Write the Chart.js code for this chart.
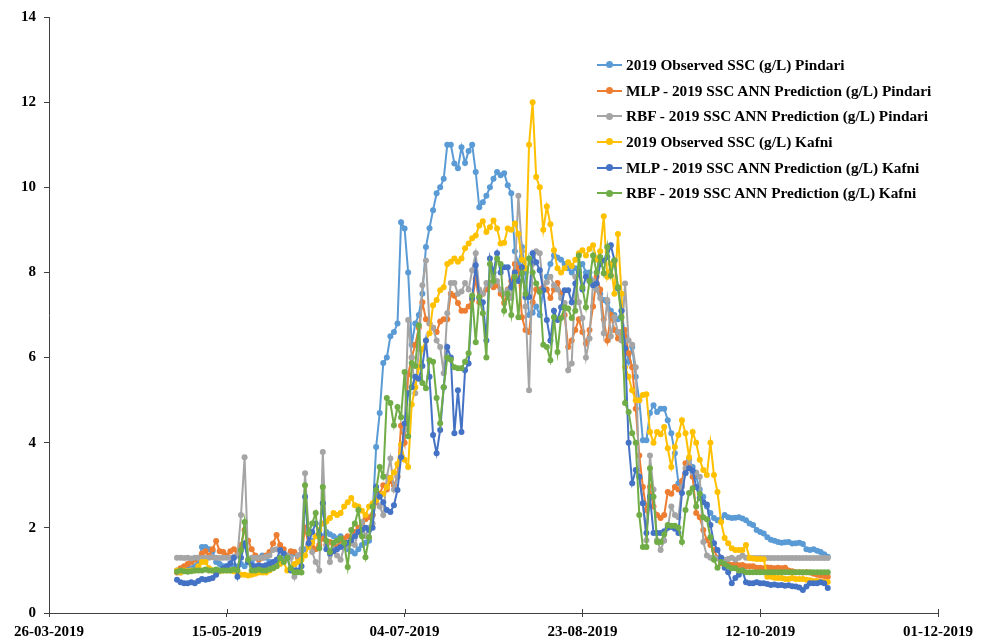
<!DOCTYPE html>
<html>
<head>
<meta charset="utf-8">
<script src="https://cdn.jsdelivr.net/npm/chart.js@4.4.1/dist/chart.umd.min.js"></script>
<style>
  html, body { margin: 0; padding: 0; background: #fff; }
  #wrap { position: relative; width: 989px; height: 640px; }
  #legend { position: absolute; left: 597px; top: 52px; font: bold 15.3px 'Liberation Serif', 'Times New Roman', serif; color: #000; }
  .row { height: 25.7px; display: flex; align-items: center; white-space: nowrap; }
  .sw { position: relative; width: 25px; height: 2px; margin-right: 4px; flex: none; }
  .sw i { position: absolute; left: 9px; top: -2.5px; width: 7px; height: 7px; border-radius: 50%; }
</style>
</head>
<body>
<div id="wrap">
  <canvas id="chart" width="989" height="640"></canvas>
  <div id="legend"></div>
</div>
<script>
// daily values, 01-05-2019 .. 31-10-2019 (184 days)
const firstDay = 36; // days after 26-03-2019

const seriesNames = [
  '2019 Observed SSC (g/L) Pindari',
  'MLP - 2019 SSC ANN Prediction (g/L) Pindari',
  'RBF - 2019 SSC ANN Prediction (g/L) Pindari',
  '2019 Observed SSC (g/L) Kafni',
  'MLP - 2019 SSC ANN Prediction (g/L) Kafni',
  'RBF - 2019 SSC ANN Prediction (g/L) Kafni'
];

const obsPindari = [
  1.0, 0.95, 1.0, 1.05, 1.05, 1.1, 1.15, 1.55, 1.55, 1.5,
  1.45, 1.2, 1.15, 1.1, 1.1, 1.05, 1.1, 1.1, 1.15, 1.1,
  1.2, 1.2, 1.3, 1.3, 1.35, 1.3, 1.2, 1.15, 1.2, 1.3,
  1.25, 1.3, 1.35, 1.4, 1.35, 1.4, 1.5, 1.6, 1.7, 1.8,
  1.85, 1.8, 1.9, 1.85, 1.8, 1.75, 1.8, 1.55, 1.5, 1.45,
  1.4, 1.5, 1.6, 1.65, 1.7, 2.3, 3.9, 4.7, 5.87, 6.0,
  6.5, 6.6, 6.8, 9.18, 9.03, 8.0, 6.3, 6.8, 7.0, 7.5,
  8.6, 9.04, 9.46, 9.86, 10.0, 10.2, 11.0, 11.0, 10.56, 10.45,
  10.94, 10.57, 10.85, 11.0, 10.36, 9.53, 9.65, 9.8, 10.0, 10.2,
  10.36, 10.28, 10.33, 10.05, 9.86, 8.5, 8.2, 8.6, 8.0, 7.0,
  7.05, 7.2, 7.0, 7.6, 7.9, 8.2, 8.4, 8.35, 8.3, 8.2,
  8.1, 8.0, 8.1, 8.05, 8.2, 8.0, 8.0, 7.8, 7.6, 7.5,
  7.35, 7.3, 7.1, 7.0, 6.9, 7.1, 6.5, 5.9, 6.25, 5.55,
  5.0, 4.06, 4.06, 4.7, 4.88, 4.72, 4.8, 4.8, 4.53, 4.22,
  3.75, 3.05, 3.0, 3.29, 3.6, 3.43, 3.2, 2.9, 2.73, 2.5,
  2.35, 2.23, 2.18, 2.2, 2.3, 2.25, 2.23, 2.24, 2.25, 2.22,
  2.18, 2.1, 2.07, 1.95, 1.9, 1.87, 1.78, 1.72, 1.7, 1.67,
  1.65, 1.66, 1.67, 1.63, 1.64, 1.65, 1.62, 1.5, 1.48, 1.5,
  1.46, 1.43, 1.38, 1.32
];

const mlpPindari = [
  0.95, 1.05, 1.1, 1.15, 1.2, 1.25, 1.3, 1.4, 1.45, 1.35,
  1.5, 1.69, 1.45, 1.43, 1.35, 1.45, 1.5, 1.4, 1.6, 1.95,
  1.7, 1.5, 1.35, 1.25, 1.3, 1.35, 1.43, 1.63, 1.83, 1.6,
  1.5, 1.35, 1.45, 1.43, 1.3, 1.35, 2.0, 1.6, 1.55, 1.5,
  1.6, 1.75, 1.6, 1.67, 1.6, 1.55, 1.7, 1.75, 1.8, 1.75,
  1.9, 2.0, 2.1, 2.2, 2.25, 2.3, 2.6, 2.8, 3.0, 2.9,
  3.1, 3.0, 3.2, 4.4, 4.0, 5.6, 6.0, 6.3, 6.7, 7.3,
  6.9, 6.8, 6.7, 6.6, 6.85, 6.9, 6.9, 7.5, 7.45, 7.28,
  7.1, 7.1, 7.2, 7.35, 7.85, 7.3, 7.5, 7.6, 7.75, 7.65,
  7.7, 7.5, 7.28, 7.6, 7.8, 8.2, 8.1, 6.95, 6.65, 6.6,
  7.3, 7.6, 7.6, 7.65, 7.6, 7.4, 7.6, 7.75, 7.5, 7.0,
  6.25, 6.4, 6.65, 6.9, 6.6, 6.33, 6.65, 7.2, 7.9, 7.6,
  6.9, 6.4, 7.0, 6.65, 6.45, 6.6, 6.65, 6.1, 5.77, 4.8,
  3.7, 2.96, 2.42, 2.96, 2.5, 2.3, 2.23, 2.3, 2.84, 2.8,
  2.96, 2.9, 3.1, 3.52, 3.45, 3.2, 2.35, 2.25, 1.95, 1.71,
  1.6, 1.48, 1.3, 1.17, 1.2, 1.15, 1.13, 1.15, 1.12, 1.13,
  1.1, 1.1, 1.1, 1.06, 1.06, 1.05, 1.07, 1.06, 1.05, 1.06,
  1.05, 1.06, 1.0, 0.98, 0.96, 0.96, 0.95, 0.96, 0.95, 0.92,
  0.9, 0.88, 0.87, 0.85
];

const rbfPindari = [
  1.3, 1.3, 1.29, 1.3, 1.28, 1.3, 1.3, 1.29, 1.3, 1.3,
  1.31, 1.3, 1.29, 1.3, 1.3, 1.3, 1.32, 1.35, 2.3, 3.66,
  1.25, 1.3, 1.3, 1.29, 1.3, 1.32, 1.35, 1.48, 1.5, 1.45,
  1.4, 1.35, 1.3, 0.85, 1.35, 1.5, 3.28, 1.95, 1.43, 1.2,
  1.0, 3.78, 1.6, 1.2, 1.5, 1.35, 1.25, 1.55, 1.6, 1.64,
  1.6, 1.9, 2.14, 1.8, 2.0, 2.1, 2.73, 2.5, 2.3, 3.2,
  3.63, 2.9, 3.2, 3.7, 4.3, 6.88, 6.0, 5.16, 6.2, 7.7,
  8.28, 6.8, 6.7, 6.4, 6.25, 5.63, 7.04, 7.75, 7.75, 7.5,
  7.55, 7.75, 7.6, 8.05, 8.45, 7.6, 7.5, 7.75, 7.7, 7.9,
  7.8, 7.6, 7.5, 7.58, 7.4, 8.0, 9.8, 8.5, 7.2, 5.23,
  8.2, 8.5, 8.45, 7.6, 7.77, 7.9, 7.7, 7.6, 7.4, 7.28,
  5.7, 5.86, 7.9, 7.3, 6.93, 6.0, 6.45, 7.8, 7.6, 7.4,
  6.57, 7.35, 6.5, 6.95, 6.6, 6.4, 7.74, 6.4, 6.3, 5.77,
  3.2, 2.58, 1.71, 3.7, 2.9, 1.71, 1.48, 1.7, 2.0, 2.5,
  2.3, 2.25, 2.96, 3.4, 3.6, 3.3, 3.3, 3.2, 1.67, 1.35,
  1.3, 1.3, 1.28, 1.3, 1.25, 1.27, 1.3, 1.25, 1.3, 1.35,
  1.3, 1.29, 1.29, 1.29, 1.29, 1.29, 1.29, 1.29, 1.29, 1.29,
  1.29, 1.29, 1.29, 1.29, 1.29, 1.29, 1.29, 1.29, 1.29, 1.29,
  1.29, 1.29, 1.29, 1.29
];

const obsKafni = [
  1.0, 0.95, 1.0, 0.98, 1.0, 1.0, 1.1, 1.2, 1.2, 1.05,
  1.0, 1.0, 0.98, 1.0, 1.0, 1.0, 0.98, 0.95, 0.9, 0.9,
  0.88, 0.9, 0.92, 0.95, 0.95, 0.95, 1.0, 1.05, 1.1, 1.15,
  1.2, 1.0, 1.05, 1.15, 1.2, 1.25, 1.35, 1.55, 1.65, 1.8,
  1.95, 2.1, 2.15, 2.23, 2.35, 2.3, 2.35, 2.5, 2.6, 2.7,
  2.53, 2.5, 2.4, 2.3, 2.5, 2.58, 2.65, 2.75, 2.8, 2.96,
  3.17, 3.3, 3.5, 3.95, 3.6, 3.43, 4.9, 5.3, 5.77, 6.2,
  6.4, 6.57, 7.23, 7.35, 7.58, 7.65, 8.2, 8.25, 8.33, 8.25,
  8.33, 8.57, 8.68, 8.8, 8.87, 9.1, 9.2, 8.95, 9.06, 9.22,
  9.03, 8.68, 8.7, 9.03, 9.0, 9.15, 8.9, 8.3, 8.1, 11.0,
  12.0, 10.24, 10.0, 9.0, 9.55, 9.13, 8.52, 8.1, 8.0, 8.1,
  8.24, 8.15, 8.3, 8.45, 8.52, 8.4, 8.55, 8.64, 8.3, 8.5,
  9.32, 7.9, 8.2, 7.5, 8.9, 7.5, 5.77, 5.55, 5.23, 5.0,
  5.0, 5.12, 5.14, 4.25, 4.0, 4.25, 4.2, 4.37, 3.87, 3.43,
  3.9, 4.18, 4.53, 4.22, 3.66, 4.25, 4.0, 3.6, 3.36, 3.24,
  4.0, 3.24, 2.84, 2.14, 1.76, 1.64, 1.52, 1.48, 1.48, 1.48,
  1.6, 1.29, 1.28, 1.27, 1.27, 1.26, 0.85, 0.85, 0.83, 0.82,
  0.82, 0.8, 0.8, 0.82, 0.8, 0.8, 0.8, 0.78, 0.77, 0.75,
  0.75, 0.74, 0.73, 0.73
];

const mlpKafni = [
  0.78, 0.72, 0.7, 0.7, 0.72, 0.7, 0.75, 0.8, 0.78, 0.8,
  0.82, 0.9, 1.0, 1.05, 1.1, 1.17, 1.3, 0.85, 1.3, 1.63,
  1.2, 1.12, 1.1, 1.12, 1.1, 1.12, 1.15, 1.2, 1.25, 1.48,
  1.4, 1.3, 1.0, 1.0, 1.0, 1.1, 2.73, 1.64, 1.9, 2.1,
  1.85, 2.58, 1.5, 1.4, 1.45, 1.5, 1.55, 1.6, 1.65, 1.71,
  1.8, 1.9, 1.95, 2.0, 1.95, 2.0, 2.96, 2.73, 2.6, 2.42,
  2.37, 2.53, 2.89, 3.66, 4.45, 5.16, 5.3, 5.55, 5.5, 5.8,
  6.4, 5.55, 4.18, 3.75, 4.3, 5.3, 6.25, 6.0, 4.22, 5.23,
  4.25, 5.7, 5.86, 7.4, 8.17, 7.4, 7.3, 6.4, 8.33, 8.0,
  8.45, 8.0, 8.12, 8.12, 7.65, 8.0, 7.8, 8.12, 7.42, 7.42,
  8.45, 8.24, 8.05, 7.58, 6.88, 6.4, 7.1, 6.88, 7.18, 7.58,
  7.58, 7.3, 7.74, 8.0, 7.6, 7.9, 7.8, 7.7, 7.74, 8.2,
  8.28, 8.36, 8.64, 8.28, 7.63, 7.1, 6.22, 4.0, 3.05, 3.36,
  3.2, 2.58, 1.88, 2.73, 1.88, 1.88, 1.88, 1.92, 2.0, 2.02,
  1.98, 1.88, 2.82, 3.29, 3.4, 3.35, 2.96, 2.7, 2.6, 2.55,
  2.07, 1.64, 1.48, 1.3, 1.06, 0.96, 0.7, 0.82, 0.9, 1.0,
  0.72, 0.7, 0.7, 0.72, 0.7, 0.7, 0.68, 0.66, 0.67, 0.65,
  0.66, 0.64, 0.65, 0.63, 0.62, 0.6, 0.54, 0.62, 0.7, 0.7,
  0.7, 0.72, 0.7, 0.59
];

const rbfKafni = [
  0.97, 1.0, 0.98, 0.97, 0.98, 1.0, 1.0, 1.0, 1.02, 1.0,
  1.0, 1.02, 1.0, 1.0, 1.0, 1.0, 1.02, 1.0, 1.48, 2.14,
  1.25, 1.0, 1.0, 1.02, 1.0, 1.0, 1.03, 1.05, 1.1, 1.29,
  1.2, 1.3, 1.05, 0.96, 0.96, 0.95, 3.0, 1.88, 2.1, 2.35,
  1.52, 2.96, 1.7, 1.43, 1.65, 1.7, 1.75, 1.65, 1.08, 1.95,
  2.1, 2.42, 1.8, 1.31, 1.78, 2.5, 2.89, 3.43, 3.2, 5.05,
  4.93, 4.41, 4.84, 4.6, 5.66, 4.15, 5.87, 5.8, 6.76, 5.4,
  5.28, 5.94, 5.9, 5.05, 4.46, 5.3, 6.0, 5.95, 5.77, 5.75,
  5.75, 5.9, 6.1, 7.46, 6.36, 7.42, 7.04, 6.0, 8.2, 7.8,
  8.33, 8.2, 7.1, 7.5, 7.0, 7.9, 6.95, 7.98, 7.5, 8.33,
  8.0, 7.74, 7.54, 6.3, 6.25, 5.94, 6.95, 6.13, 6.93, 7.18,
  7.15, 6.93, 7.1, 8.4, 7.65, 7.18, 7.8, 8.4, 8.0, 8.36,
  7.98, 8.6, 7.93, 8.28, 7.65, 6.95, 4.93, 4.72, 4.22, 4.0,
  2.3, 1.55, 1.55, 3.4, 2.73, 1.67, 1.67, 1.85, 2.07, 2.05,
  2.05, 2.0, 1.67, 2.42, 2.82, 2.93, 2.5, 2.8, 2.25, 2.2,
  1.78, 1.25, 1.06, 1.2, 1.15, 1.1, 1.05, 1.05, 1.0, 1.0,
  0.96, 0.96, 0.96, 0.96, 0.96, 0.96, 0.96, 0.96, 0.96, 0.96,
  0.96, 0.96, 0.96, 0.96, 0.96, 0.96, 0.96, 0.96, 0.96, 0.96,
  0.96, 0.96, 0.96, 0.96
];

const seriesValues = [obsPindari, mlpPindari, rbfPindari, obsKafni, mlpKafni, rbfKafni];
const colors = ['#5B9BD5', '#ED7D31', '#A5A5A5', '#FFC000', '#4472C4', '#70AD47'];
const dayNumbers = obsPindari.map((_, i) => firstDay + i);

const axisColor = '#404040';
const tickFont = { family: "'Liberation Serif', 'Times New Roman', serif", size: 15, weight: 'bold' };
const origin = Date.UTC(2019, 2, 26);

function fmtDate(v) {
  const d = new Date(origin + v * 86400000);
  const p = n => String(n).padStart(2, '0');
  return p(d.getUTCDate()) + '-' + p(d.getUTCMonth() + 1) + '-' + d.getUTCFullYear();
}

// x ticks in the picture cross the axis line
const crossTicks = {
  id: 'crossTicks',
  afterDraw(chart) {
    const xs = chart.scales.x, c = chart.ctx;
    c.save();
    c.strokeStyle = axisColor;
    c.lineWidth = 1;
    xs.ticks.forEach((t, k) => {
      const px = Math.round(xs.getPixelForTick(k)) + 0.5;
      c.beginPath();
      c.moveTo(px, xs.top - 4);
      c.lineTo(px, xs.top);
      c.stroke();
    });
    c.restore();
  }
};

const ctx = document.getElementById('chart').getContext('2d');
new Chart(ctx, {
  type: 'line',
  data: {
    datasets: seriesNames.map((name, k) => ({
      label: name,
      data: seriesValues[k].map((v, i) => ({ x: dayNumbers[i], y: v })),
      borderColor: colors[k],
      backgroundColor: colors[k],
      borderWidth: 2,
      pointRadius: 3,
      pointBorderWidth: 0,
      tension: 0,
      order: 6 - k
    }))
  },
  options: {
    responsive: false,
    animation: false,
    layout: { padding: { left: 0, right: 51, top: 17, bottom: 0 } },
    plugins: {
      legend: { display: false },
      tooltip: { enabled: false }
    },
    scales: {
      x: {
        type: 'linear',
        min: 0,
        max: 250,
        ticks: { stepSize: 50, callback: fmtDate, font: tickFont, color: '#000', padding: 6, maxRotation: 0, autoSkip: false },
        grid: { drawOnChartArea: false, tickLength: 4, tickColor: axisColor },
        border: { color: axisColor, width: 1 },
        afterFit: s => { s.height = 27; }
      },
      y: {
        min: 0,
        max: 14,
        ticks: { stepSize: 2, font: tickFont, color: '#000', padding: 8 },
        grid: { drawOnChartArea: false, tickLength: 5, tickColor: axisColor },
        border: { color: axisColor, width: 1 },
        afterFit: s => { s.width = 49; }
      }
    }
  },
  plugins: [crossTicks]
});

// legend, drawn as html over the plot
const legend = document.getElementById('legend');
seriesNames.forEach((name, k) => {
  const row = document.createElement('div');
  row.className = 'row';
  row.innerHTML = '<span class="sw" style="background:' + colors[k] + '"><i style="background:' + colors[k] + '"></i></span>' + name;
  legend.appendChild(row);
});
</script>
</body>
</html>
